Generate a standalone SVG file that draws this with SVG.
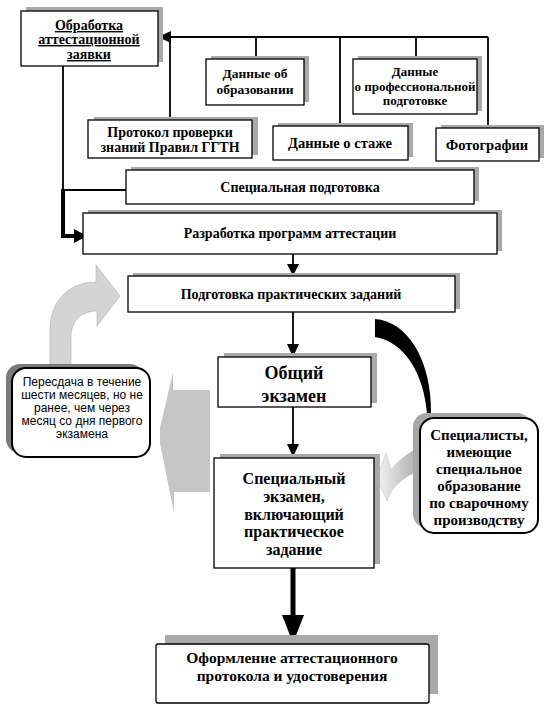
<svg xmlns="http://www.w3.org/2000/svg" width="547" height="713" viewBox="0 0 547 713">
<defs>
<style>
.box{fill:#fff;stroke:#000;stroke-width:1.3}
.sh{fill:#a9a9a9}
.t{font-family:'Liberation Serif','DejaVu Serif','Times New Roman',serif;font-weight:bold;fill:#000;text-anchor:middle}
.s{font-family:'Liberation Sans','DejaVu Sans',Arial,sans-serif;fill:#000;text-anchor:middle;font-size:12px}
.ln{fill:none;stroke:#000;stroke-width:1.8}
</style>
<linearGradient id="gA" x1="0" y1="0" x2="1" y2="0">
<stop offset="0" stop-color="#f4f4f4"/>
<stop offset="1" stop-color="#b4b4b4"/>
</linearGradient>
</defs>
<rect width="547" height="713" fill="#fff"/>

<g id="connectors">
<path class="ln" d="M488,37 L170,37"/>
<path d="M158,37 L171,31 L171,43 Z" fill="#000"/>
<path class="ln" d="M170,37 V120 M256,37 V59 M340,37 V126 M416,37 V59 M488,37 V128"/>
<path class="ln" d="M63,66 V190 H126"/>
<path d="M63,189 V236 H76" fill="none" stroke="#000" stroke-width="4"/>
<path d="M74,229 L87,236 L74,243 Z" fill="#000"/>
<path class="ln" d="M293,254 V265"/>
<path d="M287,264 L299,264 L293,276 Z" fill="#000"/>
<path class="ln" d="M293,312 V345"/>
<path d="M287,344 L299,344 L293,357 Z" fill="#000"/>
<path class="ln" d="M293,407 V445"/>
<path d="M287,444 L299,444 L293,457 Z" fill="#000"/>
<path d="M293,568 V617" fill="none" stroke="#000" stroke-width="5"/>
<path d="M282,615 L304,615 L293,643 Z" fill="#000"/>
<path d="M50,372 L50,330 C50,300 70,282 96,282 L96,265 L120,296 L97,326 L97,311 C82,311 71,320 71,338 L71,372 Z" fill="#d4d4d4" stroke="#b0b0b0" stroke-width="0.6"/>
<path d="M210,390 L173,390 L173,372 L160,428 L160,443 L174,513 L174,492 L210,492 Z" fill="#c6c6c6"/>
<path d="M375,319 C407,321 432,360 431,414 L427,414 C424,374 405,342 375,337 Z" fill="#000"/>
<path d="M414,450 C404,456 396,463 391,470 L386,453 L377,478 L387,501 L392,490 C399,482 407,476 414,473 Z" fill="url(#gA)" stroke="#c8c8c8" stroke-width="0.6"/>
</g>

<g id="n1">
<rect class="sh" x="26" y="7" width="137" height="55"/>
<rect class="box" x="21" y="11" width="137" height="55"/>
<text class="t" font-size="14" text-decoration="underline"><tspan x="89" y="30">Обработка</tspan><tspan x="89" y="44">аттестационной</tspan><tspan x="89" y="59">заявки</tspan></text>
</g>
<g id="n2">
<rect class="sh" x="211" y="56" width="98" height="46"/>
<rect class="box" x="206" y="59" width="98" height="46"/>
<text class="t" font-size="13.5"><tspan x="255" y="78">Данные об</tspan><tspan x="255" y="94">образовании</tspan></text>
</g>
<g id="n3">
<rect class="sh" x="358" y="56" width="124" height="55"/>
<rect class="box" x="353" y="59" width="124" height="55"/>
<text class="t" font-size="13"><tspan x="415" y="76">Данные</tspan><tspan x="415" y="91">о профессиональной</tspan><tspan x="415" y="105">подготовке</tspan></text>
</g>
<g id="n4">
<rect class="sh" x="94" y="117" width="164" height="38"/>
<rect class="box" x="88" y="120" width="164" height="38"/>
<text class="t" font-size="14"><tspan x="170" y="137">Протокол проверки</tspan><tspan x="170" y="152">знаний Правил ГГТН</tspan></text>
</g>
<g id="n5">
<rect class="sh" x="278" y="123" width="135" height="34"/>
<rect class="box" x="273" y="126" width="135" height="34"/>
<text class="t" font-size="14.5" x="340" y="148">Данные о стаже</text>
</g>
<g id="n6">
<rect class="sh" x="441" y="125" width="103" height="33"/>
<rect class="box" x="436" y="128" width="103" height="33"/>
<text class="t" font-size="14.5" x="487" y="150">Фотографии</text>
</g>
<g id="n7">
<rect class="sh" x="131" y="167" width="348" height="34"/>
<rect class="box" x="126" y="170" width="348" height="34"/>
<text class="t" font-size="14" x="300" y="192">Специальная подготовка</text>
</g>
<g id="n8">
<rect class="sh" x="88" y="210" width="414" height="41"/>
<rect class="box" x="83" y="213" width="414" height="41"/>
<text class="t" font-size="14" x="290" y="238">Разработка программ аттестации</text>
</g>
<g id="n9">
<rect class="sh" x="133" y="273" width="327" height="36"/>
<rect class="box" x="128" y="276" width="327" height="36"/>
<text class="t" font-size="14" x="291" y="299">Подготовка практических заданий</text>
</g>
<g id="n10">
<rect class="sh" x="224" y="353" width="153" height="50"/>
<rect class="box" x="218" y="357" width="153" height="50"/>
<text class="t" font-size="18"><tspan x="294" y="379">Общий</tspan><tspan x="294" y="402">экзамен</tspan></text>
</g>
<g id="n11">
<rect class="sh" x="220" y="454" width="160" height="110"/>
<rect class="box" x="214" y="458" width="160" height="110"/>
<text class="t" font-size="16"><tspan x="294" y="484">Специальный</tspan><tspan x="294" y="502">экзамен,</tspan><tspan x="294" y="519.5">включающий</tspan><tspan x="294" y="537">практическое</tspan><tspan x="294" y="554.5">задание</tspan></text>
</g>
<g id="n12">
<rect x="6" y="364" width="138" height="89" rx="14" fill="#7a7a7a"/>
<rect x="12" y="368" width="138" height="89" rx="14" fill="#fff" stroke="#000" stroke-width="2"/>
<text class="s"><tspan x="82" y="386">Пересдача в течение</tspan><tspan x="82" y="399">шести месяцев, но не</tspan><tspan x="82" y="412">ранее, чем через</tspan><tspan x="82" y="425">месяц со дня первого</tspan><tspan x="82" y="438">экзамена</tspan></text>
</g>
<g id="n13">
<rect x="413" y="413" width="118" height="115" rx="14" fill="#a6a6a6"/>
<rect x="420" y="418" width="118" height="115" rx="14" fill="#fff" stroke="#000" stroke-width="2"/>
<text class="t" font-size="15"><tspan x="479" y="440">Специалисты,</tspan><tspan x="479" y="457">имеющие</tspan><tspan x="479" y="474">специальное</tspan><tspan x="479" y="491">образование</tspan><tspan x="479" y="508">по сварочному</tspan><tspan x="479" y="525">производству</tspan></text>
</g>
<g id="n14">
<rect class="sh" x="165" y="635" width="273" height="59"/>
<rect class="box" x="156" y="644" width="273" height="59" rx="2"/>
<text class="t" font-size="15.5"><tspan x="292" y="663">Оформление аттестационного</tspan><tspan x="292" y="681">протокола и удостоверения</tspan></text>
</g>
</svg>
